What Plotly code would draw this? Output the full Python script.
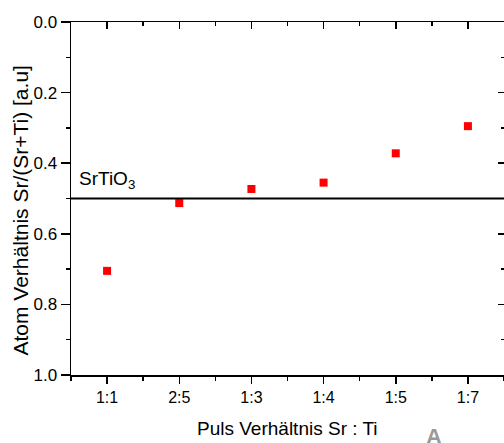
import plotly.graph_objects as go

categories = ["1:1", "2:5", "1:3", "1:4", "1:5", "1:7"]
ratio_values = [0.705, 0.513, 0.473, 0.455, 0.372, 0.295]
reference_level = 0.5
reference_label = "SrTiO<sub>3</sub>"
x_title = "Puls Verhältnis Sr : Ti"
y_title = "Atom Verhältnis Sr/(Sr+Ti) [a.u]"

positions = list(range(1, len(categories) + 1))
FONT = "Arial, Liberation Sans, sans-serif"

fig = go.Figure()
fig.add_trace(go.Scatter(
    x=positions, y=ratio_values, mode="markers",
    marker=dict(symbol="square", size=8, color="#ff0000", line=dict(width=0)),
    showlegend=False, hoverinfo="skip",
))
fig.add_trace(go.Scatter(x=positions, y=ratio_values, xaxis="x2", yaxis="y2",
                         mode="markers", marker=dict(opacity=0), showlegend=False,
                         hoverinfo="skip"))

fig.add_shape(type="line", xref="paper", x0=0, x1=1, yref="y", y0=reference_level,
              y1=reference_level, line=dict(color="black", width=2))

fig.add_annotation(text=reference_label, xref="paper", x=0, xanchor="left", xshift=6,
                   yref="y", y=reference_level, yanchor="bottom", yshift=5,
                   showarrow=False, font=dict(family=FONT, size=19, color="black"))
fig.add_annotation(text=x_title, xref="paper", x=0.5, xanchor="center",
                   yref="paper", y=0, yanchor="middle", yshift=-53,
                   showarrow=False, font=dict(family=FONT, size=19, color="black"))
fig.add_annotation(text=y_title, textangle=-90, xref="paper", x=0, xanchor="center",
                   xshift=-50, yref="paper", y=0.466, yanchor="middle",
                   showarrow=False, font=dict(family=FONT, size=21, color="black"))
fig.add_annotation(text="<b>A</b>", xref="paper", x=0.838, xanchor="center",
                   yref="paper", y=0, yanchor="top", yshift=-47,
                   showarrow=False, font=dict(family=FONT, size=22, color="#9a9a9a"))

xrange = [0.5, len(categories) + 0.5]
yrange = [1.0, 0.0]
axis_common = dict(showgrid=False, zeroline=False, showline=True, linecolor="black",
                   linewidth=1.5, tickcolor="black", tickwidth=1.5, automargin=False)

fig.update_layout(
    width=504, height=443,
    margin=dict(l=71, r=0, t=22, b=68),
    paper_bgcolor="white", plot_bgcolor="white",
    font=dict(family=FONT, size=17, color="black"),
    xaxis=dict(range=xrange, tickmode="array", tickvals=positions, ticktext=categories,
               ticks="outside", ticklen=7,
               minor=dict(tickmode="linear", tick0=0.5, dtick=0.5, ticks="outside",
                          ticklen=4, tickcolor="black", tickwidth=1.5),
               tickfont=dict(size=16), **axis_common),
    yaxis=dict(range=yrange, tickmode="linear", tick0=0, dtick=0.2, tickformat=".1f",
               ticks="outside", ticklen=9,
               minor=dict(tickmode="linear", tick0=0, dtick=0.1, ticks="outside",
                          ticklen=4, tickcolor="black", tickwidth=1.5),
               tickfont=dict(size=17), **axis_common),
    xaxis2=dict(range=xrange, overlaying="x", side="top", tickmode="array",
                tickvals=positions, ticks="inside", ticklen=7, showticklabels=False,
                minor=dict(tickmode="linear", tick0=0.5, dtick=0.5, ticks="inside",
                           ticklen=4, tickcolor="black", tickwidth=1.5),
                **axis_common),
    yaxis2=dict(range=yrange, overlaying="y", side="right", tickmode="linear", tick0=0,
                dtick=0.2, ticks="inside", ticklen=6, showticklabels=False,
                minor=dict(tickmode="linear", tick0=0, dtick=0.1, ticks="inside",
                           ticklen=3, tickcolor="black", tickwidth=1.5),
                **axis_common),
)

fig.write_html("out.html",
               config={"displayModeBar": False, "staticPlot": True},
               post_script="document.body.style.margin='0';"
                           "document.body.style.overflow='hidden';")
